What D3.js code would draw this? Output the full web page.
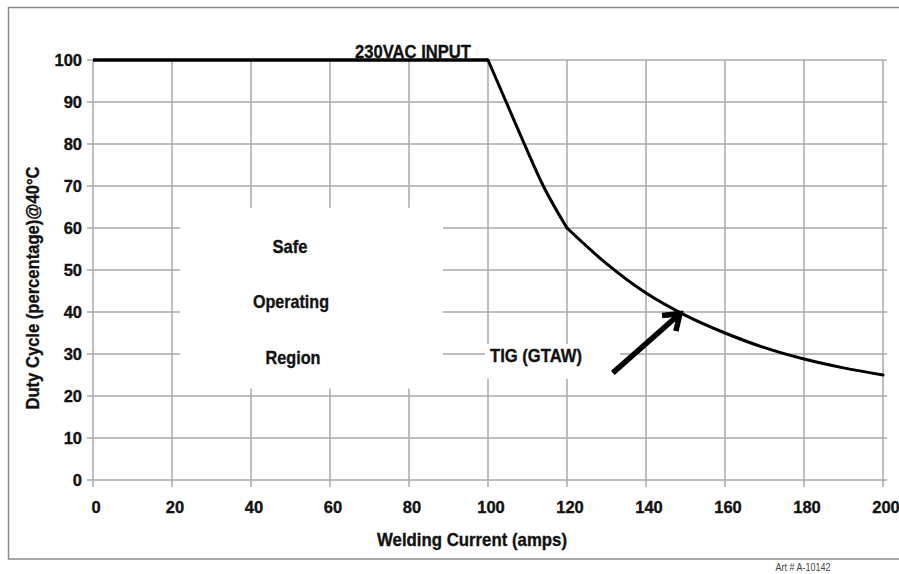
<!DOCTYPE html>
<html>
<head>
<meta charset="utf-8">
<script src="https://cdn.jsdelivr.net/npm/d3@7"></script>
<style>
  body { margin: 0; background: #fff; }
  text { font-family: "Liberation Sans", Arial, "DejaVu Sans", sans-serif; font-weight: bold; fill: #111; stroke: #111; stroke-width: 0.35px; }
</style>
</head>
<body>
<svg id="chart" width="899" height="574"></svg>
<script>
// duty cycle curve, in three pieces (flat, drop, decay)
var currentFlat = [0, 100];
var dutyFlat = [100, 100];
var currentDrop = [100, 104.6, 109.2, 114, 120];
var dutyDrop = [100, 90, 80, 70, 60];
var currentDecay = [120, 130, 140, 150, 160, 170, 180, 190, 200];
var dutyDecay = [60, 51.5, 44.5, 39.2, 35, 31.5, 28.8, 26.7, 25];

var xTicks = [0, 20, 40, 60, 80, 100, 120, 140, 160, 180, 200];
var yTicks = [0, 10, 20, 30, 40, 50, 60, 70, 80, 90, 100];

var svg = d3.select('#chart');
var x = d3.scaleLinear().domain([0, 200]).range([93, 883]);
var y = d3.scaleLinear().domain([0, 100]).range([480, 60]);

// outer frame
svg.append('rect')
    .attr('x', 8.5).attr('y', 7.5)
    .attr('width', 1000).attr('height', 551.5)
    .attr('fill', 'none').attr('stroke', '#8a8a8a').attr('stroke-width', 1.5);

// grid
var grid = svg.append('g').attr('stroke', '#a8a8a8').attr('stroke-width', 1.5);
grid.selectAll('.h').data(yTicks).enter().append('line')
    .attr('x1', x(0) - 6).attr('x2', x(200) + 4)
    .attr('y1', function (d) { return y(d); }).attr('y2', function (d) { return y(d); });
grid.selectAll('.v').data(xTicks).enter().append('line')
    .attr('y1', y(100)).attr('y2', y(0) + 7)
    .attr('x1', function (d) { return x(d); }).attr('x2', function (d) { return x(d); });

// white label boxes over the grid
svg.append('rect')
    .attr('x', x(22)).attr('y', y(64.8))
    .attr('width', x(88.6) - x(22)).attr('height', y(21.8) - y(64.8))
    .attr('fill', '#fff');
svg.append('rect')
    .attr('x', x(99.2)).attr('y', y(32.4))
    .attr('width', x(133.4) - x(99.2)).attr('height', y(24.1) - y(32.4))
    .attr('fill', '#fff');

// tick labels
svg.append('g').selectAll('text').data(yTicks).enter().append('text')
    .attr('x', x(0) - 11).attr('y', function (d) { return y(d); })
    .attr('dy', '0.36em').attr('text-anchor', 'end')
    .style('font-size', '16.5px')
    .text(function (d) { return d; });
svg.append('g').selectAll('text').data(xTicks).enter().append('text')
    .attr('x', function (d) { return x(d) + 3; }).attr('y', 513)
    .attr('text-anchor', 'middle')
    .style('font-size', '16.5px')
    .text(function (d) { return d; });

// text squeezed to the condensed widths of the original
function label(tx, ty, str, size, width) {
    return svg.append('text')
        .attr('x', tx).attr('y', ty)
        .attr('text-anchor', 'middle')
        .attr('textLength', width).attr('lengthAdjust', 'spacingAndGlyphs')
        .style('font-size', size + 'px')
        .text(str);
}

// axis titles
label(0, 0, 'Duty Cycle (percentage)@40°C', 18.5, 243)
    .attr('transform', 'translate(39,288) rotate(-90)');
label(472, 546, 'Welding Current (amps)', 18.5, 190);

// curve
var line = d3.line()
    .x(function (d) { return x(d[0]); })
    .y(function (d) { return y(d[1]); });
svg.append('path')
    .datum(d3.zip(currentFlat, dutyFlat))
    .attr('d', line)
    .attr('fill', 'none').attr('stroke', '#000').attr('stroke-width', 3.4);
[d3.zip(currentDrop, dutyDrop), d3.zip(currentDecay, dutyDecay)].forEach(function (pts) {
    svg.append('path')
        .datum(pts)
        .attr('d', line.curve(d3.curveMonotoneX))
        .attr('fill', 'none').attr('stroke', '#000').attr('stroke-width', 3)
        .attr('stroke-linecap', 'round');
});

// arrow pointing at the curve
var tail = [131.6, 25.5], tip = [148.6, 39.6];
var ax = x(tip[0]), ay = y(tip[1]);
var ang = Math.atan2(ay - y(tail[1]), ax - x(tail[0]));
var head = 18, spread = 0.62;
svg.append('line')
    .attr('x1', x(tail[0])).attr('y1', y(tail[1]))
    .attr('x2', ax - 2 * Math.cos(ang)).attr('y2', ay - 2 * Math.sin(ang))
    .attr('stroke', '#000').attr('stroke-width', 5.5);
svg.append('path')
    .attr('d', 'M' + (ax - head * Math.cos(ang - spread)) + ',' + (ay - head * Math.sin(ang - spread)) +
        ' L' + ax + ',' + ay +
        ' L' + (ax - head * Math.cos(ang + spread)) + ',' + (ay - head * Math.sin(ang + spread)))
    .attr('fill', 'none').attr('stroke', '#000').attr('stroke-width', 5.5)
    .attr('stroke-linejoin', 'miter');

// annotations
label(413, 58, '230VAC INPUT', 19, 116);
label(290, 253, 'Safe', 19, 35);
label(291, 308, 'Operating', 19, 76);
label(293, 364, 'Region', 19, 55);
label(536, 362, 'TIG (GTAW)', 19, 92);
label(803, 571, 'Art # A-10142', 10, 55)
    .style('font-weight', 'normal').style('fill', '#444').style('stroke', 'none');
</script>
</body>
</html>
